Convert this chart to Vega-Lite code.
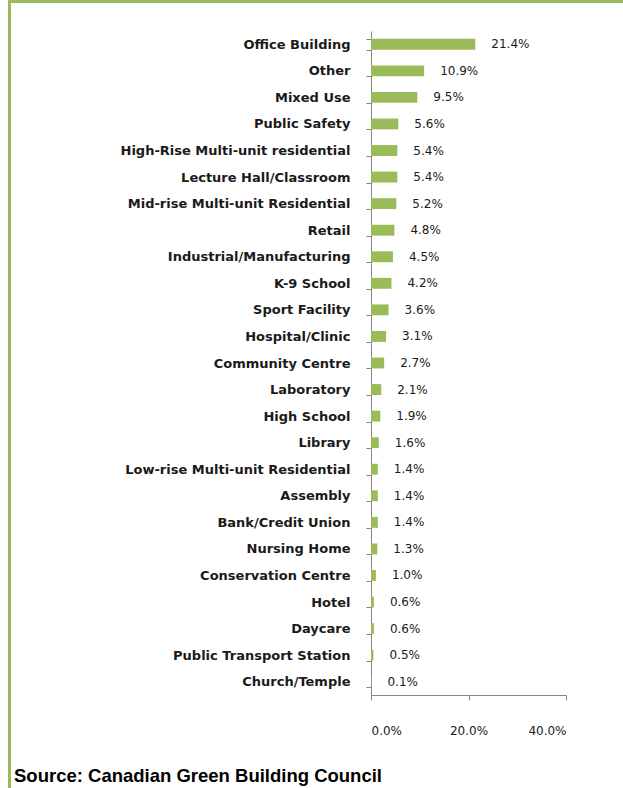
{
  "$schema": "https://vega.github.io/schema/vega-lite/v6.json",
  "padding": {"left": 8, "top": 0, "right": 0, "bottom": 0},
  "background": "white",
  "config": {"view": {"stroke": null}, "concat": {"spacing": 0}},
  "datasets": {
    "rows": [
      {"category": "Office Building", "share": 0.214},
      {"category": "Other", "share": 0.109},
      {"category": "Mixed Use", "share": 0.095},
      {"category": "Public Safety", "share": 0.056},
      {"category": "High-Rise Multi-unit residential", "share": 0.054},
      {"category": "Lecture Hall/Classroom", "share": 0.054},
      {"category": "Mid-rise Multi-unit Residential", "share": 0.052},
      {"category": "Retail", "share": 0.048},
      {"category": "Industrial/Manufacturing", "share": 0.045},
      {"category": "K-9 School", "share": 0.042},
      {"category": "Sport Facility", "share": 0.036},
      {"category": "Hospital/Clinic", "share": 0.031},
      {"category": "Community Centre", "share": 0.027},
      {"category": "Laboratory", "share": 0.021},
      {"category": "High School", "share": 0.019},
      {"category": "Library", "share": 0.016},
      {"category": "Low-rise Multi-unit Residential", "share": 0.014},
      {"category": "Assembly", "share": 0.014},
      {"category": "Bank/Credit Union", "share": 0.014},
      {"category": "Nursing Home", "share": 0.013},
      {"category": "Conservation Centre", "share": 0.010},
      {"category": "Hotel", "share": 0.006},
      {"category": "Daycare", "share": 0.006},
      {"category": "Public Transport Station", "share": 0.005},
      {"category": "Church/Temple", "share": 0.001}
    ],
    "empty": []
  },
  "bounds": "flush",
  "spacing": 0,
  "hconcat": [
    {
      "width": 3,
      "height": 788,
      "view": {"fill": "#9BBB59", "stroke": null},
      "data": {"name": "empty"},
      "mark": "point",
      "encoding": {}
    },
    {
      "bounds": "flush",
      "spacing": 28,
      "vconcat": [
        {
          "width": 612,
          "height": 3,
          "view": {"fill": "#9BBB59", "stroke": null},
          "data": {"name": "empty"},
          "mark": "point",
          "encoding": {}
        },
        {
          "bounds": "flush",
          "spacing": 340,
          "hconcat": [
            {
              "width": 0,
              "height": 664,
              "data": {"name": "empty"},
              "mark": "point",
              "encoding": {}
            },
            {
              "width": 195,
              "height": 664,
              "data": {"name": "rows"},
              "title": {
                "text": "Source: Canadian Green Building Council",
                "orient": "bottom",
                "anchor": "start",
                "frame": "group",
                "dx": -357,
                "offset": 31,
                "font": "Liberation Sans",
                "fontSize": 18.5,
                "fontWeight": "bold",
                "color": "#000000"
              },
              "encoding": {
                "y": {
                  "field": "category",
                  "type": "nominal",
                  "sort": null,
                  "scale": {"paddingInner": 0.59, "paddingOuter": 0.295},
                  "axis": {
                    "title": null,
                    "tickBand": "extent",
                    "domainColor": "#868686",
                    "tickColor": "#868686",
                    "tickSize": 5,
                    "labelPadding": 16,
                    "labelFont": "DejaVu Sans",
                    "labelFontSize": 13,
                    "labelFontWeight": "bold",
                    "labelColor": "#1a1a1a",
                    "labelLimit": 400
                  }
                },
                "x": {
                  "field": "share",
                  "type": "quantitative",
                  "scale": {"domain": [0, 0.4]},
                  "axis": {
                    "title": null,
                    "values": [0, 0.2, 0.4],
                    "format": ".1%",
                    "grid": false,
                    "domainColor": "#868686",
                    "tickColor": "#868686",
                    "tickSize": 5,
                    "labelPadding": 25,
                    "labelFont": "DejaVu Sans",
                    "labelFontSize": 12,
                    "labelColor": "#1a1a1a"
                  }
                }
              },
              "layer": [
                {"mark": {"type": "bar", "color": "#9BBB59"}},
                {
                  "mark": {
                    "type": "text",
                    "align": "left",
                    "baseline": "middle",
                    "dx": 16,
                    "font": "DejaVu Sans",
                    "fontSize": 12,
                    "color": "#1a1a1a"
                  },
                  "encoding": {
                    "text": {"field": "share", "type": "quantitative", "format": ".1%"}
                  }
                }
              ]
            }
          ]
        }
      ]
    }
  ]
}
